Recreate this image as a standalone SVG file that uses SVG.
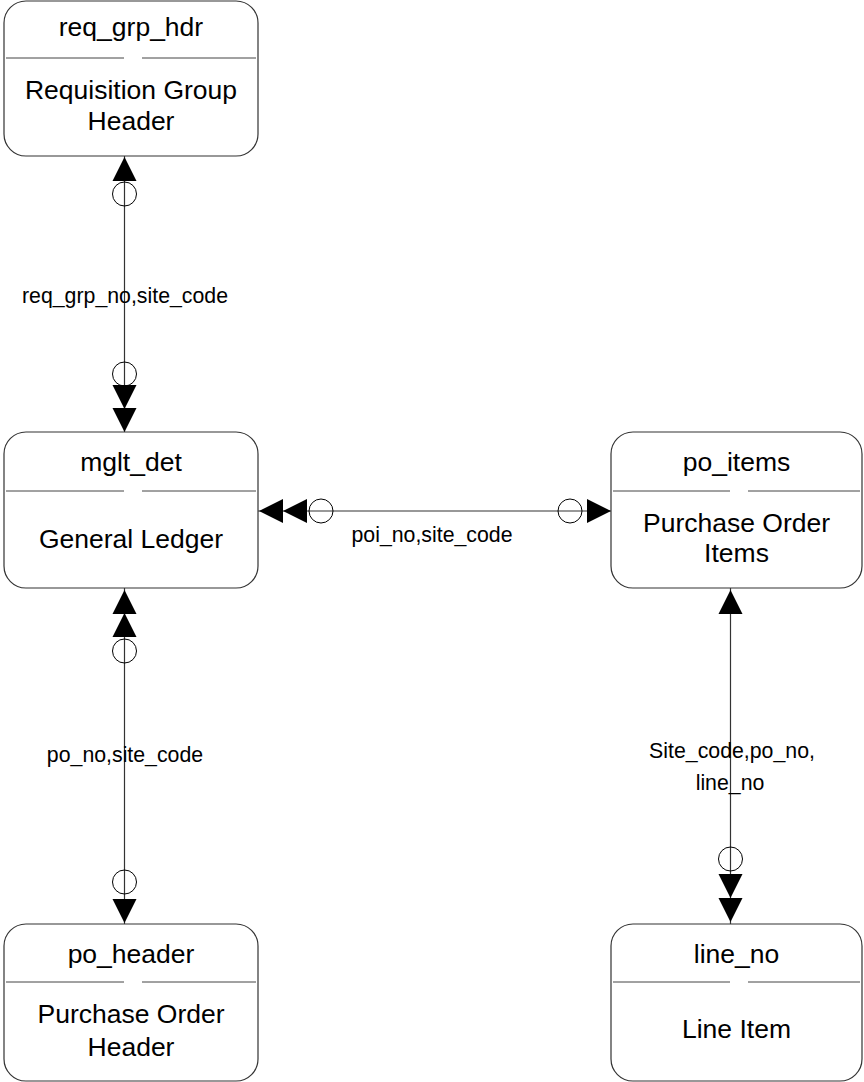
<svg xmlns="http://www.w3.org/2000/svg" xmlns:xlink="http://www.w3.org/1999/xlink" width="864" height="1082" viewBox="0 0 864 1082">
<style>
.box{fill:#fff;stroke:#333;stroke-width:1.2}
.div{stroke:#444;stroke-width:1}
.t{font-family:"Liberation Sans",Arial,sans-serif;font-size:26.5px;fill:#000;text-anchor:middle}
.lbl{font-family:"Liberation Sans",Arial,sans-serif;font-size:21.3px;fill:#000;text-anchor:middle}
.ln{stroke:#333;stroke-width:1.2;fill:none}
.ah{fill:#000}
.ring{fill:none;stroke:#000;stroke-width:1}
</style>
<defs>
<path id="arrow" class="ah" d="M0,0 L-12,-24 L12,-24 Z"/>
<circle id="ring" class="ring" r="12"/>
</defs>
<rect width="864" height="1082" fill="#fff"/>
<g id="connectors">
  <g id="c1">
    <line class="ln" x1="124.5" y1="156" x2="124.5" y2="432"/>
    <use xlink:href="#arrow" transform="translate(124.5,157) rotate(180)"/>
    <use xlink:href="#ring" x="124.5" y="194"/>
    <use xlink:href="#ring" x="124.5" y="374"/>
    <use xlink:href="#arrow" transform="translate(124.5,409)"/>
    <use xlink:href="#arrow" transform="translate(124.5,432)"/>
    <text class="lbl" x="125" y="303">req_grp_no,site_code</text>
  </g>
  <g id="c2">
    <line class="ln" x1="258" y1="511" x2="611" y2="511"/>
    <use xlink:href="#arrow" transform="translate(259,511) rotate(90)"/>
    <use xlink:href="#arrow" transform="translate(283,511) rotate(90)"/>
    <use xlink:href="#ring" x="321" y="511"/>
    <use xlink:href="#ring" x="570" y="511"/>
    <use xlink:href="#arrow" transform="translate(611,511) rotate(-90)"/>
    <text class="lbl" x="432" y="542">poi_no,site_code</text>
  </g>
  <g id="c3">
    <line class="ln" x1="124.5" y1="588" x2="124.5" y2="924"/>
    <use xlink:href="#arrow" transform="translate(124.5,590) rotate(180)"/>
    <use xlink:href="#arrow" transform="translate(124.5,613) rotate(180)"/>
    <use xlink:href="#ring" x="124.5" y="651"/>
    <use xlink:href="#ring" x="124.5" y="882"/>
    <use xlink:href="#arrow" transform="translate(124.5,923)"/>
    <text class="lbl" x="125" y="762">po_no,site_code</text>
  </g>
  <g id="c4">
    <line class="ln" x1="730.5" y1="588" x2="730.5" y2="924"/>
    <use xlink:href="#arrow" transform="translate(730.5,590) rotate(180)"/>
    <use xlink:href="#ring" x="730.5" y="859"/>
    <use xlink:href="#arrow" transform="translate(730.5,898)"/>
    <use xlink:href="#arrow" transform="translate(730.5,922)"/>
    <text class="lbl" x="732" y="758">Site_code,po_no,</text>
    <text class="lbl" x="730" y="790">line_no</text>
  </g>
</g>
<g id="req_grp_hdr">
  <rect class="box" x="4" y="1" width="254" height="155" rx="22"/>
  <line class="div" x1="6" y1="58" x2="124" y2="58"/>
  <line class="div" x1="142" y1="58" x2="256" y2="58"/>
  <text class="t" x="131" y="36">req_grp_hdr</text>
  <text class="t" x="131" y="99">Requisition Group</text>
  <text class="t" x="131" y="130">Header</text>
</g>
<g id="mglt_det">
  <rect class="box" x="4" y="432" width="254" height="156" rx="22"/>
  <line class="div" x1="6" y1="491" x2="124" y2="491"/>
  <line class="div" x1="142" y1="491" x2="256" y2="491"/>
  <text class="t" x="131" y="471">mglt_det</text>
  <text class="t" x="131" y="548">General Ledger</text>
</g>
<g id="po_items">
  <rect class="box" x="611" y="432" width="251" height="156" rx="22"/>
  <line class="div" x1="613" y1="491" x2="730" y2="491"/>
  <line class="div" x1="748" y1="491" x2="860" y2="491"/>
  <text class="t" x="736.5" y="471">po_items</text>
  <text class="t" x="736.5" y="532">Purchase Order</text>
  <text class="t" x="736.5" y="562">Items</text>
</g>
<g id="po_header">
  <rect class="box" x="4" y="924" width="254" height="157" rx="22"/>
  <line class="div" x1="6" y1="982" x2="124" y2="982"/>
  <line class="div" x1="142" y1="982" x2="256" y2="982"/>
  <text class="t" x="131" y="963">po_header</text>
  <text class="t" x="131" y="1023">Purchase Order</text>
  <text class="t" x="131" y="1056">Header</text>
</g>
<g id="line_no">
  <rect class="box" x="611" y="924" width="251" height="157" rx="22"/>
  <line class="div" x1="613" y1="982" x2="730" y2="982"/>
  <line class="div" x1="748" y1="982" x2="860" y2="982"/>
  <text class="t" x="736.5" y="963">line_no</text>
  <text class="t" x="736.5" y="1038">Line Item</text>
</g>
</svg>
